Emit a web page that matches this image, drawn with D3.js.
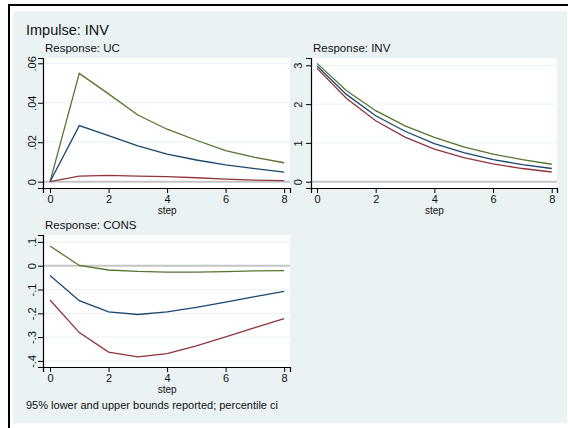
<!DOCTYPE html>
<html>
<head>
<meta charset="utf-8">
<script src="https://cdn.jsdelivr.net/npm/d3@7"></script>
<style>
  html, body { margin: 0; padding: 0; background: #ffffff; }
  svg { display: block; font-family: "Liberation Sans", Arial, sans-serif; }
</style>
</head>
<body>
<svg id="chart" width="568" height="428"></svg>
<script>
// ---------- data ----------
const steps = [0, 1, 2, 3, 4, 5, 6, 7, 8];
const xTicks = [0, 2, 4, 6, 8];

const ucIrf   = [0, 0.0284, 0.0233, 0.0182, 0.0140, 0.0110, 0.0085, 0.0066, 0.0049];
const ucLower = [0, 0.0028, 0.0032, 0.0028, 0.0026, 0.0020, 0.0013, 0.0008, 0.0005];
const ucUpper = [0, 0.0549, 0.0445, 0.0338, 0.0266, 0.0210, 0.0157, 0.0123, 0.0096];
const ucTicks = [0, 0.02, 0.04, 0.06];
const ucTickLabels = ["0", ".02", ".04", ".06"];

const invIrf   = [2.98, 2.25, 1.70, 1.30, 0.98, 0.75, 0.57, 0.44, 0.34];
const invLower = [2.92, 2.15, 1.57, 1.15, 0.84, 0.62, 0.46, 0.34, 0.25];
const invUpper = [3.05, 2.35, 1.83, 1.44, 1.14, 0.90, 0.71, 0.57, 0.45];
const invTicks = [0, 1, 2, 3];
const invTickLabels = ["0", "1", "2", "3"];

const consIrf   = [-0.041, -0.147, -0.194, -0.205, -0.194, -0.175, -0.153, -0.130, -0.108];
const consLower = [-0.144, -0.281, -0.363, -0.383, -0.369, -0.337, -0.299, -0.260, -0.222];
const consUpper = [0.083, 0.001, -0.018, -0.024, -0.027, -0.027, -0.025, -0.022, -0.021];
const consTicks = [-0.4, -0.3, -0.2, -0.1, 0, 0.1];
const consTickLabels = ["-.4", "-.3", "-.2", "-.1", "0", ".1"];

const mainTitle = "Impulse: INV";
const footnote = "95% lower and upper bounds reported; percentile ci";
const xTitle = "step";

// ---------- styles ----------
const colIrf = "#1a476f", colLower = "#90353b", colUpper = "#55752f";
const bg = "#eaf2f3";

const svg = d3.select("#chart");

// outer frame (cropped page)
svg.append("rect").attr("x", 13).attr("y", 11).attr("width", 554).attr("height", 412).attr("fill", bg);
svg.append("line").attr("x1", 8).attr("x2", 568).attr("y1", 5).attr("y2", 5).attr("stroke", "#000").attr("stroke-width", 2);
svg.append("line").attr("x1", 9).attr("x2", 9).attr("y1", 4).attr("y2", 428).attr("stroke", "#000").attr("stroke-width", 2);

svg.append("text").attr("x", 26).attr("y", 35).attr("font-size", 14.5).attr("fill", "#111").text(mainTitle);
svg.append("text").attr("x", 26).attr("y", 409).attr("font-size", 11).attr("fill", "#111").text(footnote);

const panels = [
  { title: "Response: UC", left: 43, right: 290, top: 58, bottom: 188,
    xDom: [-0.24, 8.2], yDom: [-0.0032, 0.0627], ticks: ucTicks, labels: ucTickLabels,
    labelX: 36, series: [ucUpper, ucIrf, ucLower] },
  { title: "Response: INV", left: 311, right: 557, top: 58, bottom: 188,
    xDom: [-0.205, 8.18], yDom: [-0.162, 3.188], ticks: invTicks, labels: invTickLabels,
    labelX: 302, series: [invUpper, invIrf, invLower] },
  { title: "Response: CONS", left: 43, right: 290, top: 235, bottom: 367,
    xDom: [-0.24, 8.2], yDom: [-0.4256, 0.129], ticks: consTicks, labels: consTickLabels,
    labelX: 36, series: [consUpper, consIrf, consLower] }
];
const colors = [colUpper, colIrf, colLower];

panels.forEach(p => {
  const g = svg.append("g");
  const x = d3.scaleLinear().domain(p.xDom).range([p.left, p.right]);
  const y = d3.scaleLinear().domain(p.yDom).range([p.bottom, p.top]);

  g.append("rect").attr("x", p.left).attr("y", p.top)
    .attr("width", p.right - p.left).attr("height", p.bottom - p.top).attr("fill", "#fff");

  // gridlines
  p.ticks.filter(t => t !== 0).forEach(t => {
    g.append("line").attr("x1", p.left).attr("x2", p.right)
      .attr("y1", y(t)).attr("y2", y(t)).attr("stroke", bg).attr("stroke-width", 1);
  });
  // zero line
  g.append("line").attr("x1", p.left).attr("x2", p.right)
    .attr("y1", y(0)).attr("y2", y(0)).attr("stroke", "#c4c4c4").attr("stroke-width", 2);

  // series
  const line = d3.line().x((d, i) => x(steps[i])).y(d => y(d));
  p.series.forEach((s, k) => {
    g.append("path").datum(s).attr("d", line).attr("fill", "none")
      .attr("stroke", colors[k]).attr("stroke-width", 1.3);
  });

  // x axis
  const xa = g.append("g").attr("transform", `translate(0,${p.bottom})`)
    .call(d3.axisBottom(x).tickValues(xTicks).tickFormat(d3.format("d")).tickSizeOuter(0).tickSize(5).tickPadding(2));
  xa.select(".domain").attr("stroke", "#000").attr("stroke-width", 1.2);
  xa.selectAll(".tick line").attr("stroke", "#000");
  xa.selectAll("text").attr("font-size", 11).attr("fill", "#111").attr("font-family", "Liberation Sans, Arial, sans-serif");

  // y axis
  const ya = g.append("g").attr("transform", `translate(${p.left},0)`)
    .call(d3.axisLeft(y).tickValues(p.ticks).tickFormat((d, i) => p.labels[i]).tickSizeOuter(0).tickSize(5));
  ya.select(".domain").attr("stroke", "#000").attr("stroke-width", 1.2);
  ya.selectAll(".tick line").attr("stroke", "#000");
  ya.selectAll("text")
    .attr("x", null).attr("dy", null)
    .attr("text-anchor", "middle")
    .attr("transform", `translate(${p.labelX - p.left},0) rotate(-90)`)
    .attr("font-size", 11).attr("fill", "#111")
    .attr("font-family", "Liberation Sans, Arial, sans-serif");

  // titles
  g.append("text").attr("x", p.left + 2).attr("y", p.top - 6)
    .attr("font-size", 11.5).attr("fill", "#111").text(p.title);
  g.append("text").attr("x", (x(0) + x(8)) / 2).attr("y", p.bottom + 26)
    .attr("text-anchor", "middle").attr("font-size", 10).attr("fill", "#111").text(xTitle);
});
</script>
</body>
</html>
